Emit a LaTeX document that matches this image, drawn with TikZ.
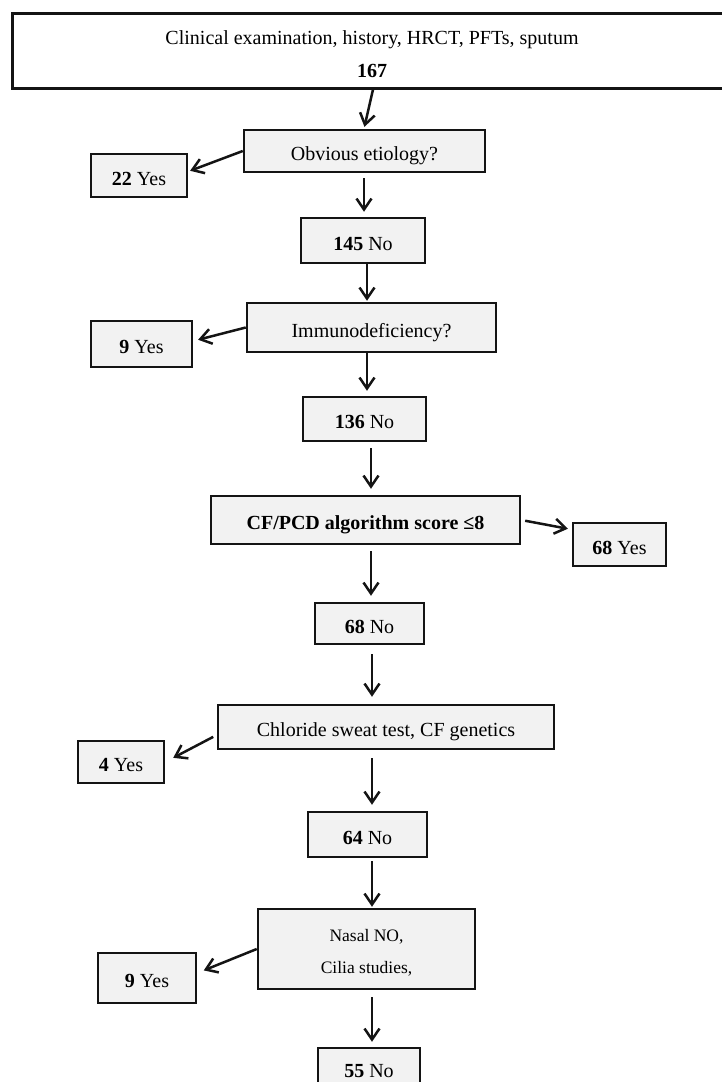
\documentclass[tikz,border=0pt]{standalone}
\usepackage{fontspec}
\setmainfont{Liberation Serif}
\usetikzlibrary{arrows.meta}
\definecolor{boxgray}{RGB}{242,242,242}
\definecolor{ink}{RGB}{20,20,20}
\begin{document}
\begin{tikzpicture}[x=1pt,y=-1pt,
  boxbase/.style={draw=ink, line width=2.5pt, fill=boxgray, inner sep=0pt,
    font=\fontsize{20}{24}\selectfont},
  box/.style={boxbase, text height=19pt, text depth=0pt},
  arr/.style={draw=ink, line width=2.5pt, -{Straight Barb[length=11pt,width=15pt]}},
  txt/.style={anchor=base, inner sep=0pt, font=\fontsize{20}{24}\selectfont},
]
\useasboundingbox (0,0) rectangle (721,1082);

% top box
\node[draw=ink, line width=3pt, fill=white, inner sep=0pt,
      minimum width=720pt, minimum height=75pt] (top) at (372,50.5) {};
\node[txt] (toptxt) at (372,44.5) {Clinical examination, history, HRCT, PFTs, sputum};
\node[txt, font=\fontsize{20}{24}\selectfont\bfseries] (topnum) at (372,77) {167};

% main column
\node[box, minimum width=241pt, minimum height=42pt] (obv) at (364.5,151) {Obvious etiology?};
\node[box, minimum width=124pt, minimum height=45pt] (n145) at (363,240.5) {\textbf{145} No};
\node[box, minimum width=249pt, minimum height=49pt] (imm) at (371.5,327.5) {Immunodeficiency?};
\node[box, minimum width=123pt, minimum height=44pt] (n136) at (364.5,419) {\textbf{136} No};
\node[box, minimum width=309pt, minimum height=48pt] (cf) at (365.5,520) {\textbf{CF/PCD algorithm score ≤8}};
\node[box, minimum width=109pt, minimum height=41pt] (n68) at (369.5,623.5) {\textbf{68} No};
\node[box, minimum width=336pt, minimum height=44pt] (chl) at (386,727) {Chloride sweat test, CF genetics};
\node[box, minimum width=119pt, minimum height=45pt] (n64) at (367.5,834.5) {\textbf{64} No};
\node[boxbase, minimum width=217pt, minimum height=80pt, align=center,
      font=\fontsize{17.5}{32}\selectfont] (nas) at (366.5,949) {\rule{0pt}{20pt}Nasal NO,\\Cilia studies,};
\node[box, text height=14pt, minimum width=102pt, minimum height=45pt] (n55) at (369,1070.5) {\textbf{55} No};

% side boxes
\node[box, minimum width=96pt, minimum height=43pt] (y22) at (139,175.5) {\textbf{22} Yes};
\node[box, minimum width=101pt, minimum height=46pt] (y9a) at (141.5,344) {\textbf{9} Yes};
\node[box, minimum width=93pt, minimum height=43pt] (y68) at (619.5,544.5) {\textbf{68} Yes};
\node[box, minimum width=86pt, minimum height=42pt] (y4) at (121,762) {\textbf{4} Yes};
\node[box, minimum width=98pt, minimum height=50pt] (y9b) at (147,978) {\textbf{9} Yes};

% vertical connectors
\draw[arr, shorten >=2pt] ([xshift=1pt]top.south) -- ([xshift=-0.5pt]obv.north);
\draw[arr, shorten <=5pt, shorten >=5pt] ([xshift=-0.5pt]obv.south) -- ([xshift=1pt]n145.north);
\draw[arr, shorten >=1pt] ([xshift=4pt]n145.south) -- ([xshift=-4.5pt]imm.north);
\draw[arr, shorten >=5pt] ([xshift=-4.5pt]imm.south) -- ([xshift=2.5pt]n136.north);
\draw[arr, shorten <=6pt, shorten >=6pt] ([xshift=6.5pt]n136.south) -- ([xshift=5.5pt]cf.north);
\draw[arr, shorten <=6pt, shorten >=6pt] ([xshift=5.5pt]cf.south) -- ([xshift=1.5pt]n68.north);
\draw[arr, shorten <=9pt, shorten >=7pt] ([xshift=2.5pt]n68.south) -- ([xshift=-14pt]chl.north);
\draw[arr, shorten <=8pt, shorten >=6pt] ([xshift=-14pt]chl.south) -- ([xshift=4.5pt]n64.north);
\draw[arr, shorten <=3pt, shorten >=1pt] ([xshift=4.5pt]n64.south) -- ([xshift=5.5pt]nas.north);
\draw[arr, shorten <=7pt, shorten >=5pt] ([xshift=5.5pt]nas.south) -- ([xshift=3pt]n55.north);

% side connectors
\draw[arr, shorten >=2pt] (obv.west) -- ([yshift=4pt]y22.east);
\draw[arr, shorten >=5pt] (imm.west) -- ([yshift=3pt]y9a.east);
\draw[arr, shorten <=4pt, shorten >=4pt] (cf.east) -- ([yshift=15pt]y68.west);
\draw[arr, shorten <=4pt, shorten >=9pt] ([yshift=-8pt]chl.west) -- (y4.east);
\draw[arr, shorten >=7pt] (nas.west) -- ([yshift=5pt]y9b.east);
\end{tikzpicture}
\end{document}
